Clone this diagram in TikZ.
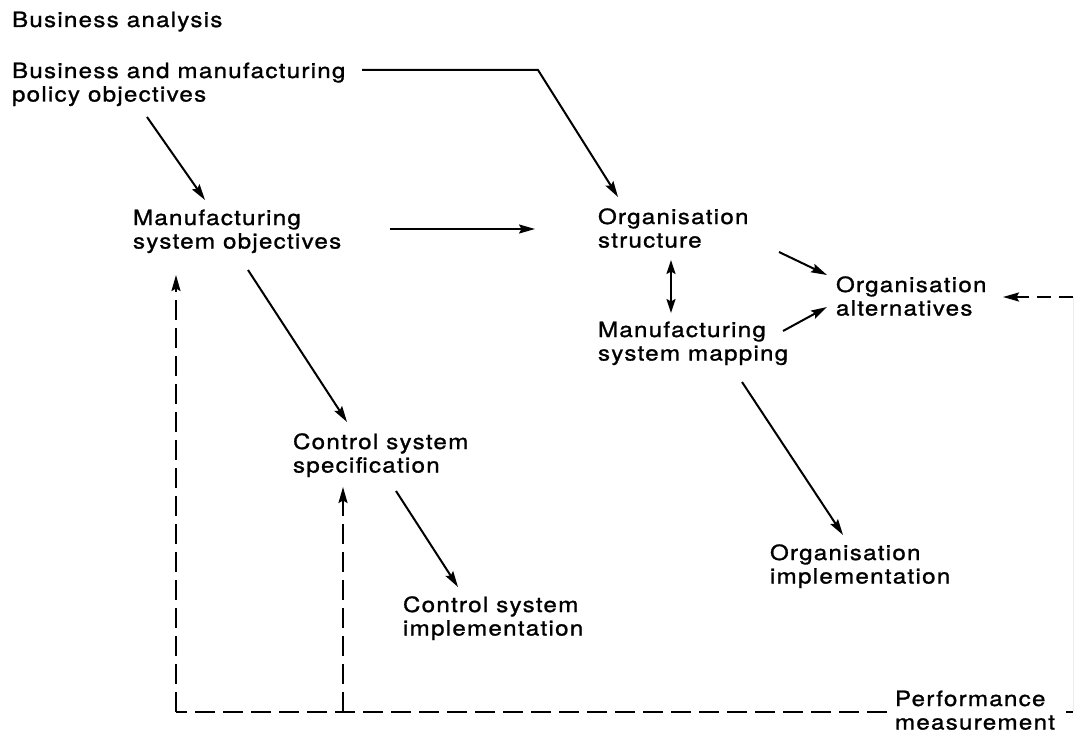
\documentclass[tikz,border=0pt]{standalone}
\usepackage{fontspec}
\setmainfont{TeX Gyre Heros}[FakeStretch=1.15,LetterSpace=6,FakeBold=1.2]
\usetikzlibrary{calc,arrows.meta}
\begin{document}
\begin{tikzpicture}[x=1pt,y=-1pt,
  lbl/.style={anchor=base west,inner sep=0pt,outer sep=0pt,
    font=\fontsize{21}{23.5}\selectfont},
  tip/.style={Stealth[length=16pt,width=9pt,inset=2.5pt]},
  arr/.style={line width=2pt,-{Stealth[length=16pt,width=9pt,inset=2.5pt]}},
  darr/.style={line width=2pt,{Stealth[length=14pt,width=9pt,inset=2.5pt]}-{Stealth[length=14pt,width=9pt,inset=2.5pt]}},
  fb/.style={line width=2pt,dash pattern=on 20pt off 8pt},
  fbarr/.style={fb,-{Stealth[length=16pt,width=9pt,inset=2.5pt]}}]
\useasboundingbox (0,0) rectangle (1075,733);

% stage labels (first-line baseline at the given point)
\newcommand{\stage}[1]{\begin{tabular}[t]{@{}l@{}}#1\end{tabular}}
\node[lbl] (ba)  at (12,27)  {Business analysis};
\node[lbl] (bmp) at (12,78)  {\stage{Business and manufacturing\\policy objectives}};
\node[lbl] (mso) at (133,225) {\stage{Manufacturing\\system objectives}};
\node[lbl] (os)  at (598,224) {\stage{Organisation\\structure}};
\node[lbl] (oa)  at (836,292) {\stage{Organisation\\alternatives}};
\node[lbl] (msm) at (598,337) {\stage{Manufacturing\\system mapping}};
\node[lbl] (css) at (293,449) {\stage{Control system\\specification}};
\node[lbl] (csi) at (403,612) {\stage{Control system\\implementation}};
\node[lbl] (oi)  at (770,560) {\stage{Organisation\\implementation}};
\node[lbl] (pm)  at (895,706) {\stage{Performance\\measurement}};

% main flow
\draw[arr] ($(bmp.base west)+(350,-8)$) -- ($(bmp.base west)+(526,-8)$)
           -- ($(os.base west)+(20,-27)$);
\draw[arr] ($(bmp.base west)+(135,39)$) -- ($(mso.base west)+(72,-25)$);
\draw[arr] ($(mso.base west)+(257,4)$) -- ($(os.base west)+(-63,5)$);
\draw[arr] ($(mso.base west)+(115,45)$) -- ($(css.base west)+(54,-27)$);
\draw[arr] ($(css.base west)+(103,42)$) -- ($(csi.base west)+(55,-25)$);
\draw[arr] ($(os.base west)+(181,28)$) -- ($(oa.base west)+(-9,-17)$);
\draw[darr] ($(os.base west)+(73,36)$) -- ($(msm.base west)+(73,-24)$);
\draw[arr] ($(msm.base west)+(185,-6)$) -- ($(oa.base west)+(-9,15)$);
\draw[arr] ($(msm.base west)+(144,45)$) -- ($(oi.base west)+(73,-25)$);

% performance feedback
\coordinate (fbL) at (176,712);
\coordinate (fbM) at (343,712);
\coordinate (fbE) at (1073,712);
\coordinate (fbT) at (1073,297);
\draw[fb] ($(pm.base west)+(-8,6)$) -- (fbL);
\draw[fbarr] (fbL) -- ($(mso.base west)+(43,50)$);
\draw[fbarr] (fbM) -- ($(css.base west)+(50,38)$);
\draw[line width=2pt] (1066,712) -- (fbE);
\draw[line width=1pt,black!7] (fbE) -- (fbT);
\draw[fbarr,dash pattern=on 14pt off 8pt] (fbT) -- ($(oa.base west)+(167,5)$);
\end{tikzpicture}
\end{document}
